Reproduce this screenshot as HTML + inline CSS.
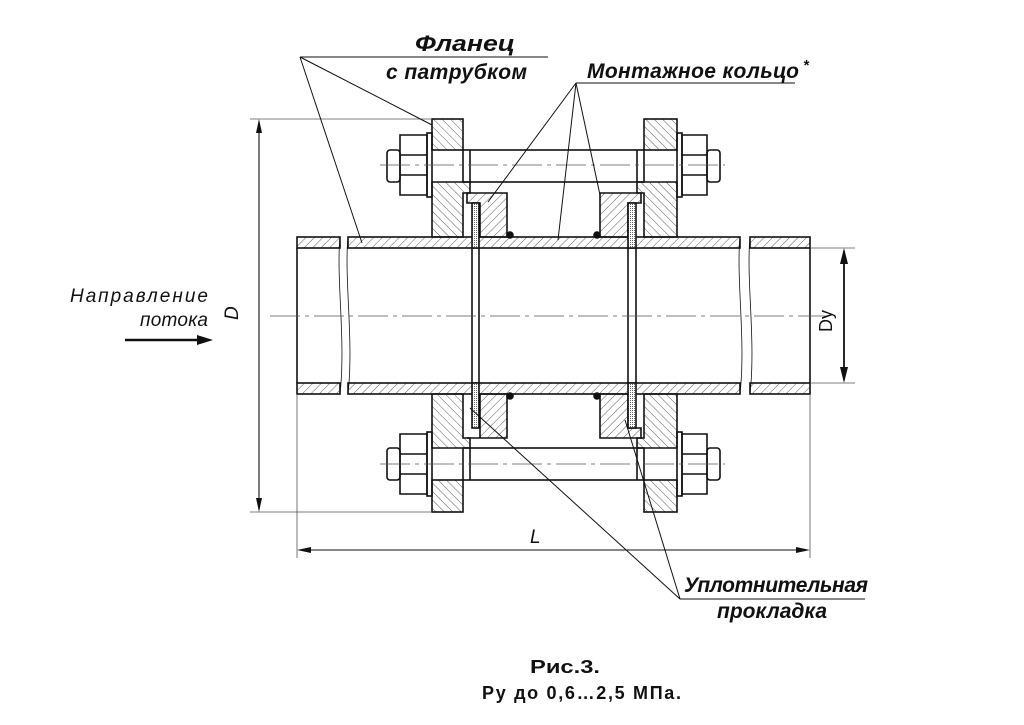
<!DOCTYPE html>
<html><head><meta charset="utf-8"><style>
html,body{margin:0;padding:0;background:#fff}
svg{display:block}
text{font-family:"Liberation Sans",sans-serif;fill:#111}
</style></head><body>
<svg width="1024" height="725" viewBox="0 0 1024 725" xmlns="http://www.w3.org/2000/svg">
<defs>
<pattern id="h1" width="6" height="6" patternUnits="userSpaceOnUse" patternTransform="rotate(45)"><line x1="0" y1="0" x2="0" y2="6" stroke="#333" stroke-width="0.8"/></pattern>
<pattern id="h2" width="6" height="6" patternUnits="userSpaceOnUse" patternTransform="rotate(-45)"><line x1="0" y1="0" x2="0" y2="6" stroke="#333" stroke-width="0.8"/></pattern>
<pattern id="g" width="2" height="2" patternUnits="userSpaceOnUse"><rect width="2" height="2" fill="#fff"/><rect width="1" height="1" fill="#666"/></pattern>
</defs>
<g stroke="#111" stroke-width="1.6" fill="none">
<rect x="297" y="237" width="43" height="11" fill="url(#h1)"/>
<rect x="348" y="237" width="392" height="11" fill="url(#h1)"/>
<rect x="750" y="237" width="60" height="11" fill="url(#h1)"/>
<rect x="297" y="383" width="43" height="11" fill="url(#h1)"/>
<rect x="348" y="383" width="392" height="11" fill="url(#h1)"/>
<rect x="750" y="383" width="60" height="11" fill="url(#h1)"/>
<line x1="297" y1="248" x2="297" y2="383"/>
<line x1="810" y1="248" x2="810" y2="383"/>
<path d="M340 237 C336 280 346 340 340 394" stroke-width="0.8"/>
<path d="M348 237 C344 280 354 340 348 394" stroke-width="0.8"/>
<path d="M740 237 C736 280 746 340 740 394" stroke-width="0.8"/>
<path d="M750 237 C746 280 756 340 750 394" stroke-width="0.8"/>
<rect x="432" y="119" width="31" height="31" fill="url(#h2)"/>
<path d="M432 182 H470 V193 H463 V237 H432 Z" fill="url(#h2)"/>
<rect x="644" y="119" width="33" height="31" fill="url(#h2)"/>
<path d="M637 182 H677 V237 H644 V193 H637 Z" fill="url(#h2)"/>
<rect x="432" y="480" width="31" height="32" fill="url(#h2)"/>
<path d="M432 394 H463 V438 H470 V448 H432 Z" fill="url(#h2)"/>
<rect x="644" y="480" width="33" height="32" fill="url(#h2)"/>
<path d="M644 394 H677 V448 H637 V438 H644 Z" fill="url(#h2)"/>
<path d="M467 193 H507 V237 H480 V203 H467 Z" fill="url(#h1)"/>
<path d="M600 193 H641 V203 H628 V237 H600 Z" fill="url(#h1)"/>
<path d="M467 438 H480 V394 H507 V438 Z" fill="url(#h1)"/>
<path d="M600 394 H628 V428 H641 V438 H600 Z" fill="url(#h1)"/>
<rect x="472" y="203" width="7" height="45" fill="url(#g)"/>
<rect x="472" y="383" width="7" height="45" fill="url(#g)"/>
<rect x="628" y="203" width="8" height="45" fill="url(#g)"/>
<rect x="628" y="383" width="8" height="45" fill="url(#g)"/>
<line x1="472" y1="248" x2="472" y2="383"/><line x1="479" y1="248" x2="479" y2="383"/>
<line x1="628" y1="248" x2="628" y2="383"/><line x1="636" y1="248" x2="636" y2="383"/>
<circle cx="510" cy="235" r="3" fill="#111"/><circle cx="597" cy="235" r="3" fill="#111"/>
<circle cx="510" cy="396" r="3" fill="#111"/><circle cx="597" cy="396" r="3" fill="#111"/>
<rect x="463" y="150" width="181" height="32"/>
<line x1="470" y1="150" x2="470" y2="182"/><line x1="637" y1="150" x2="637" y2="182"/>
<rect x="387" y="150" width="13" height="32" rx="3"/>
<path d="M400 135 H427 V195 H400 Z M400 155 H427 M400 175 H427"/>
<rect x="427" y="133" width="5" height="64"/>
<rect x="677" y="133" width="5" height="64"/>
<path d="M682 135 H707 V195 H682 Z M682 155 H707 M682 175 H707"/>
<rect x="707" y="150" width="13" height="32" rx="3"/>
<rect x="463" y="448" width="181" height="32"/>
<line x1="470" y1="448" x2="470" y2="480"/><line x1="637" y1="448" x2="637" y2="480"/>
<rect x="387" y="448" width="13" height="32" rx="3"/>
<path d="M400 434 H427 V494 H400 Z M400 454 H427 M400 474 H427"/>
<rect x="427" y="432" width="5" height="64"/>
<rect x="677" y="432" width="5" height="64"/>
<path d="M682 434 H707 V494 H682 Z M682 454 H707 M682 474 H707"/>
<rect x="707" y="448" width="13" height="32" rx="3"/>
</g>
<g stroke="#555" stroke-width="0.8" fill="none">
<line x1="270" y1="316" x2="830" y2="316" stroke-dasharray="30 5 4 5"/>
<line x1="380" y1="165" x2="725" y2="165" stroke-dasharray="30 5 4 5"/>
<line x1="380" y1="464" x2="725" y2="464" stroke-dasharray="30 5 4 5"/>
<line x1="250" y1="119" x2="432" y2="119"/>
<line x1="250" y1="512" x2="432" y2="512"/>
<line x1="297" y1="394" x2="297" y2="558"/>
<line x1="810" y1="394" x2="810" y2="558"/>
<line x1="810" y1="248" x2="855" y2="248"/>
<line x1="810" y1="383" x2="855" y2="383"/>
</g>
<g stroke="#111" stroke-width="1.1" fill="#111">
<line x1="259" y1="122" x2="259" y2="509"/>
<path d="M259 119 L256 133 L262 133 Z M259 512 L256 498 L262 498 Z" stroke="none"/>
<line x1="300" y1="550" x2="807" y2="550"/>
<path d="M297 550 L311 547 L311 553 Z M810 550 L796 547 L796 553 Z" stroke="none"/>
<line x1="844" y1="251" x2="844" y2="380" stroke-width="1.8"/>
<path d="M844 248 L840 264 L848 264 Z M844 383 L840 367 L848 367 Z" stroke="none"/>
<line x1="125" y1="340" x2="205" y2="340" stroke-width="2.5"/>
<path d="M213 340 L197 335 L197 345 Z" stroke="none"/>
</g>
<g stroke="#111" stroke-width="1" fill="none">
<line x1="300" y1="57" x2="548" y2="57"/>
<line x1="300" y1="57" x2="432" y2="125"/>
<line x1="300" y1="57" x2="362" y2="243"/>
<line x1="576" y1="83" x2="795" y2="83"/>
<line x1="576" y1="83" x2="488" y2="202"/>
<line x1="576" y1="83" x2="558" y2="240"/>
<line x1="576" y1="83" x2="600" y2="195"/>
<line x1="680" y1="599" x2="865" y2="599"/>
<line x1="680" y1="599" x2="470" y2="408"/>
<line x1="680" y1="599" x2="625" y2="420"/>
</g>
<g font-style="italic" font-weight="bold" font-size="21">
<text x="415" y="51" font-size="22" textLength="100" lengthAdjust="spacingAndGlyphs">Фланец</text>
<text x="386" y="79" textLength="141" lengthAdjust="spacing">с патрубком</text>
<text x="587" y="78" textLength="212" lengthAdjust="spacing">Монтажное кольцо</text>
<text x="803" y="70" font-size="15">*</text>
<text x="684" y="592" textLength="184" lengthAdjust="spacing">Уплотнительная</text>
<text x="717" y="618" textLength="110" lengthAdjust="spacing">прокладка</text>
</g>
<g font-style="italic" font-size="19">
<text x="70" y="302" textLength="138" lengthAdjust="spacing">Направление</text>
<text x="140" y="326" textLength="68" lengthAdjust="spacing">потока</text>
<text x="530" y="543">L</text>
<text transform="translate(238,320) rotate(-90)">D</text>
</g>
<text font-size="18" transform="translate(832,332) rotate(-90)">Dy</text>
<g font-weight="bold" font-size="18">
<text x="530" y="673" textLength="70" lengthAdjust="spacingAndGlyphs">Рис.3.</text>
<text x="482" y="699" textLength="199" lengthAdjust="spacing">Ру до 0,6…2,5 МПа.</text>
</g>
</svg>
</body></html>
